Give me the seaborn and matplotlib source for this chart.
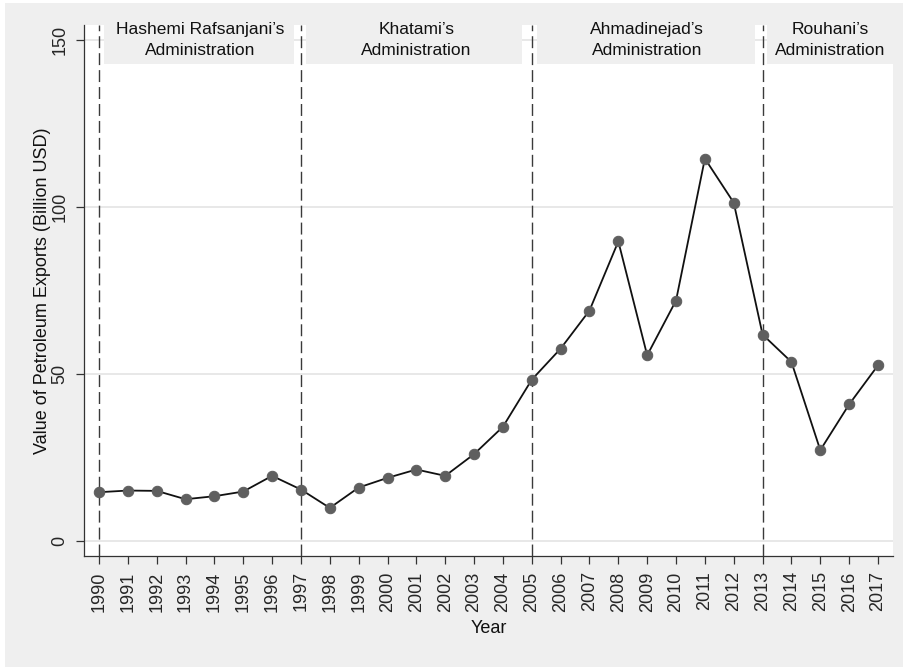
import numpy as np
import pandas as pd
import matplotlib.pyplot as plt
from matplotlib.patches import Rectangle
import seaborn as sns

# values
years = list(range(1990, 2018))
exports = [14.6, 15.1, 15.0, 12.5, 13.4, 14.8, 19.5, 15.4, 9.9, 16.0,
           18.9, 21.4, 19.5, 26.0, 34.2, 48.3, 57.6, 69.0, 89.7, 55.6,
           72.0, 114.5, 101.3, 61.8, 53.6, 27.2, 40.9, 52.6]

admin_starts = [1990, 1997, 2005, 2013]
admin_names = ["Hashemi Rafsanjani’s\nAdministration",
               "Khatami’s\nAdministration",
               "Ahmadinejad’s\nAdministration",
               "Rouhani’s\nAdministration"]
label_x = [1993.5, 2001.0, 2009.0, 2015.35]

df = pd.DataFrame({"Year": years, "Exports": exports})

sns.set_theme(style="white")
plt.rcParams["font.family"] = ["Liberation Sans", "DejaVu Sans"]

bg = "#efefef"
fig = plt.figure(figsize=(9.04, 6.67), dpi=100, facecolor=bg)
# thin white strips at the top and left edge
fig.patches.append(Rectangle((0, 1 - 3 / 667), 1, 3 / 667, transform=fig.transFigure,
                             facecolor="white", edgecolor="none", zorder=-10))
fig.patches.append(Rectangle((0, 0), 5 / 904, 1, transform=fig.transFigure,
                             facecolor="white", edgecolor="none", zorder=-10))

ax = fig.add_axes([84 / 904, 111 / 667, 809 / 904, 531 / 667])
ax.set_facecolor("white")

ax.set_xlim(1989.48, 2017.52)
ax.set_ylim(-4.5, 154.5)

ax.set_yticks([0, 50, 100, 150])
ax.yaxis.grid(True, color="#e6e6e6", linewidth=1.3, zorder=0)
ax.xaxis.grid(False)

# administration boundaries
for x0 in admin_starts:
    ax.axvline(x0, color="#3a3a3a", linewidth=1.0, linestyle=(0, (8.6, 3.6)), zorder=2)

# grey header boxes between the boundaries
ends = admin_starts[1:] + [2018.5]
right_gap = [0.24, 0.34, 0.26, 0.0]
for i, (x0, x1) in enumerate(zip(admin_starts, ends)):
    ax.add_patch(Rectangle((x0 + 0.17, 142.8), (x1 - right_gap[i]) - (x0 + 0.17), 11.7,
                           facecolor=bg, edgecolor="none", clip_on=False, zorder=3))
    ax.text(label_x[i], 150, admin_names[i], ha="center", va="center",
            multialignment="center", fontsize=12.5, color="#111111",
            linespacing=1.45, clip_on=False, zorder=4)

sns.lineplot(data=df, x="Year", y="Exports", ax=ax, color="#111111", linewidth=1.3,
             marker="o", markersize=7.5, markerfacecolor="#5f5f5f",
             markeredgecolor="#5f5f5f", zorder=5)

ax.set_xticks(years)
ax.set_xticklabels([str(y) for y in years], rotation=90, fontsize=13)
ax.tick_params(axis="y", labelrotation=90, labelsize=13)
for lab in ax.get_yticklabels():
    lab.set_va("center")
ax.tick_params(axis="both", direction="out", length=6, width=0.9, color="#333333",
               pad=5, left=True, bottom=True)

for side in ["top", "right"]:
    ax.spines[side].set_visible(False)
for side in ["left", "bottom"]:
    ax.spines[side].set_color("#333333")
    ax.spines[side].set_linewidth(0.9)

ax.set_xlabel("Year", fontsize=13, color="#111111")
ax.set_ylabel("Value of Petroleum Exports (Billion USD)", fontsize=13, color="#111111")
ax.xaxis.set_label_coords(0.5, -0.12)
ax.xaxis.label.set_va("top")
ax.yaxis.set_label_coords(-0.0408, 0.5)

fig.savefig("out.png", dpi=100, facecolor=fig.get_facecolor())
